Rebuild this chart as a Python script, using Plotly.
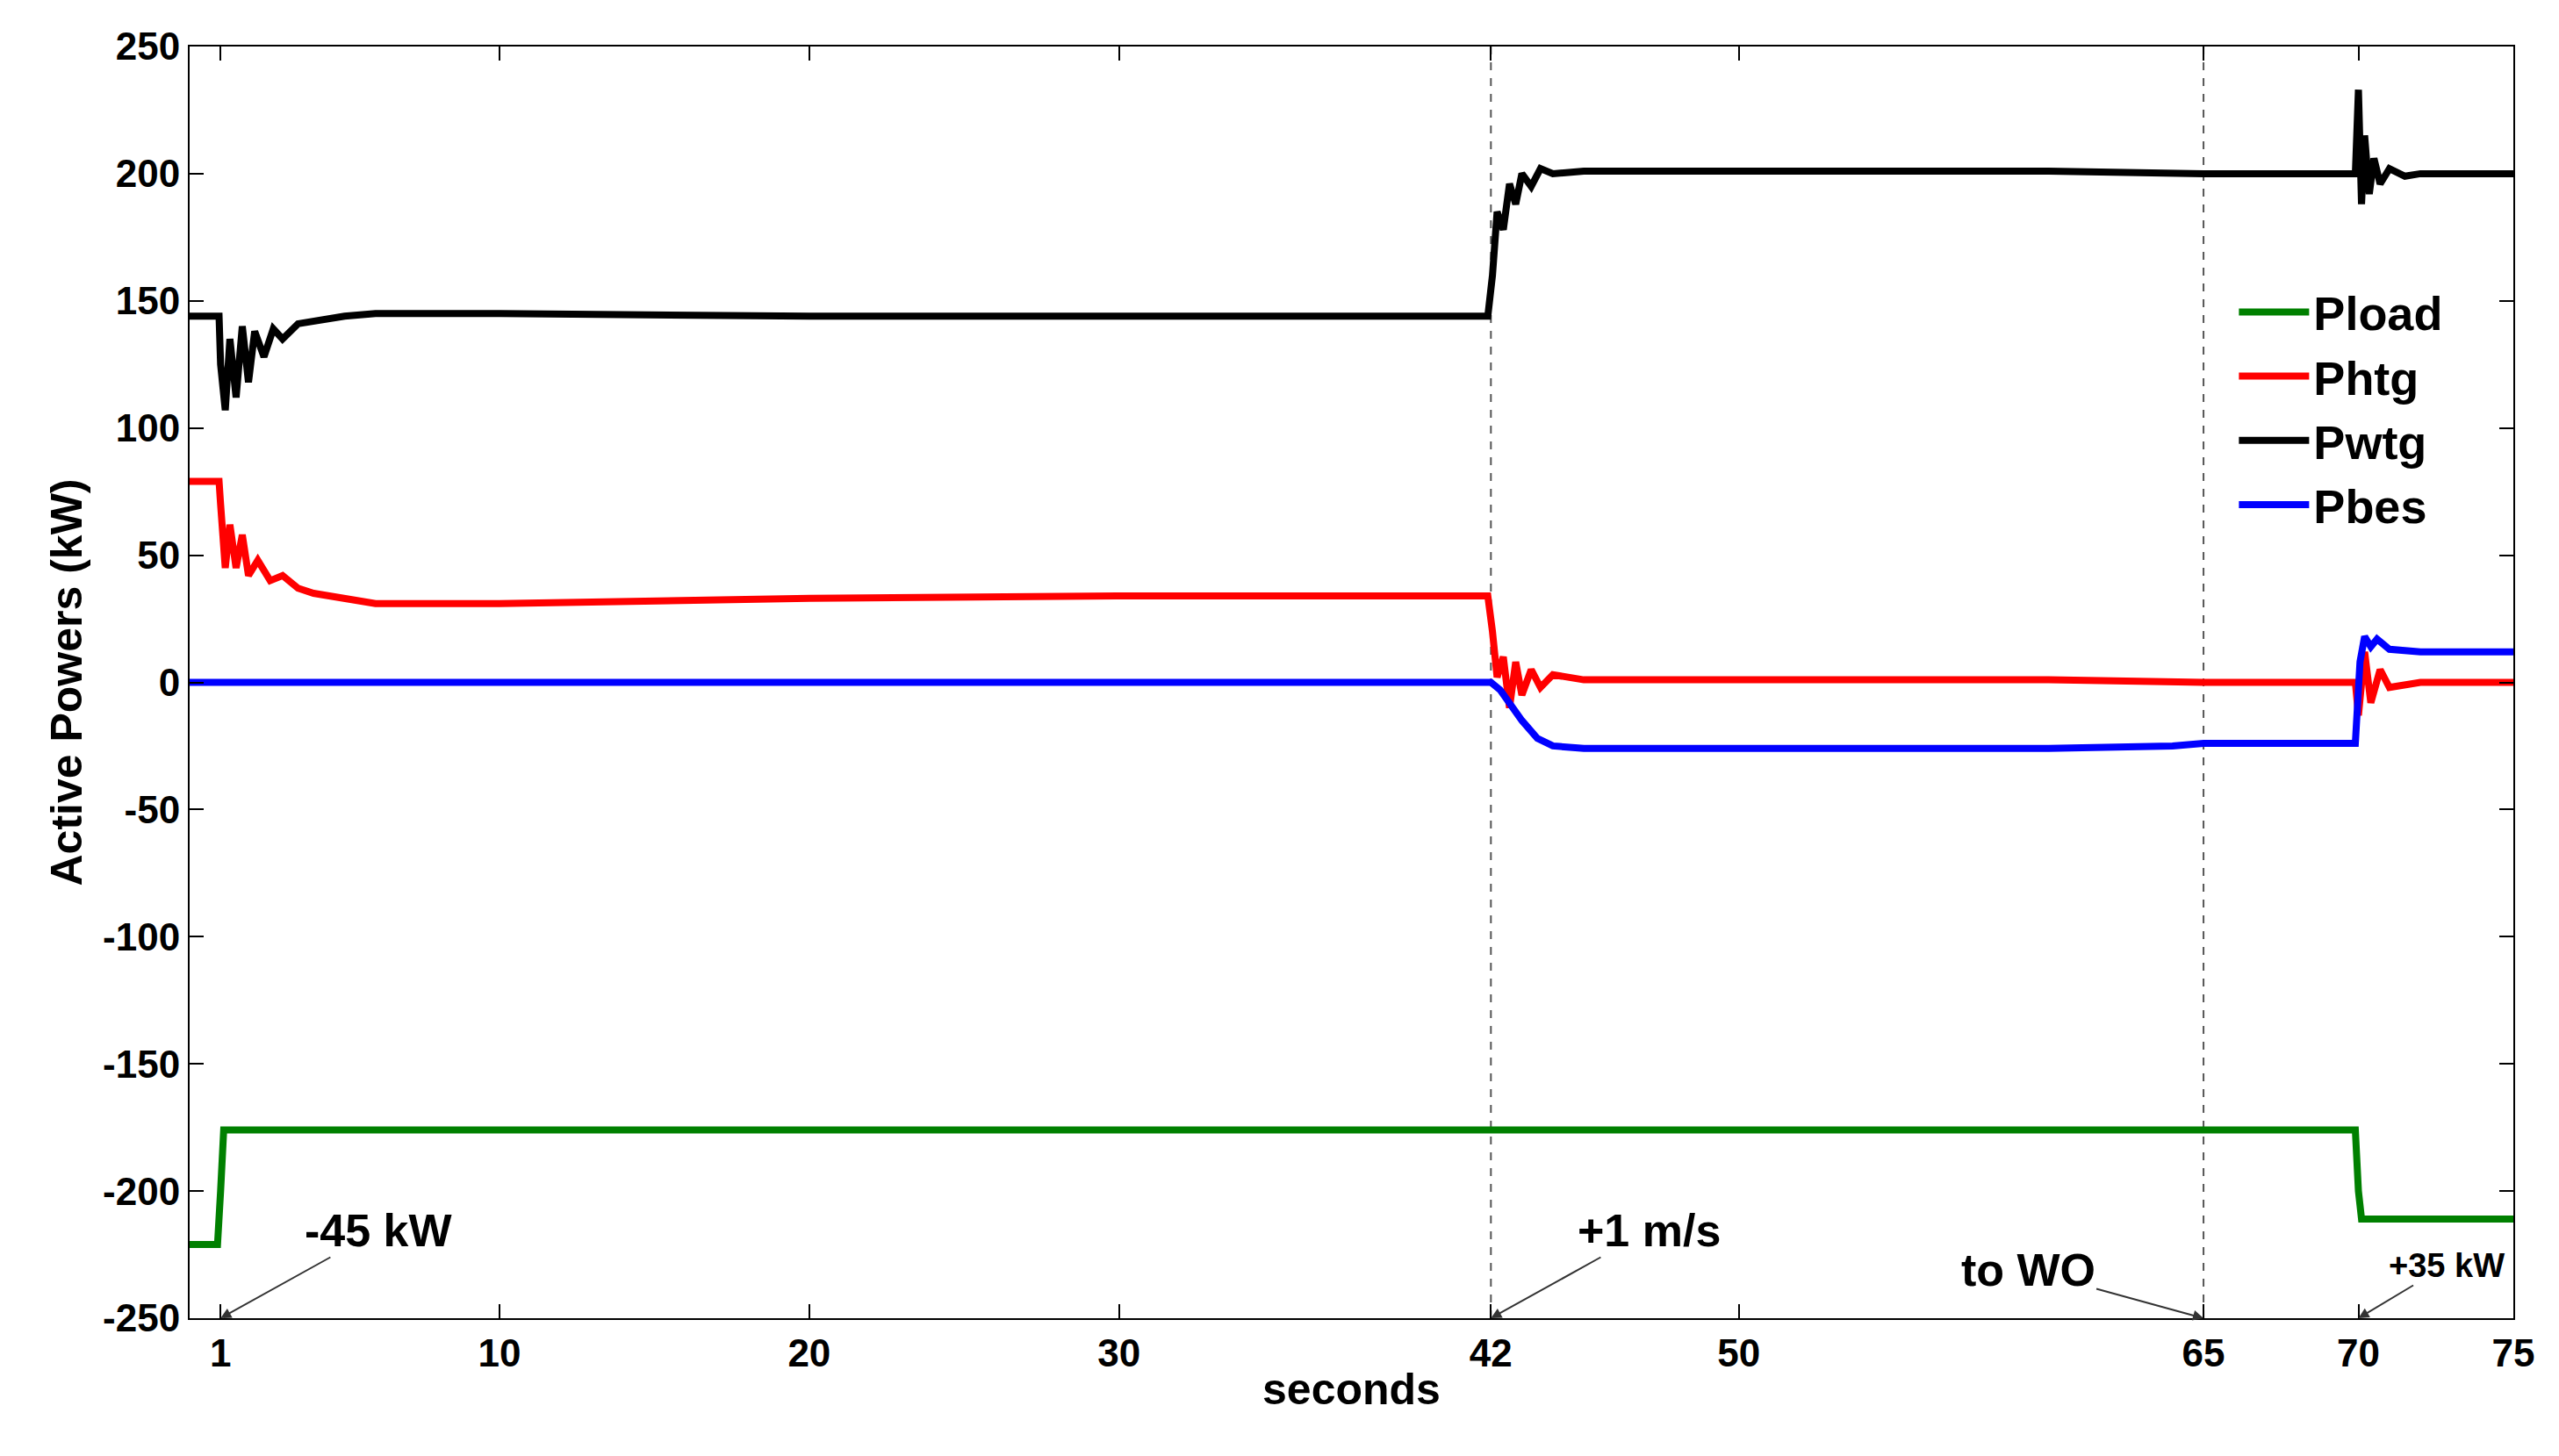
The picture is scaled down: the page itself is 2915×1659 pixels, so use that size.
import plotly.graph_objects as go

# time points (s) and values (kW)
t_wtg = [0, 0.95, 1.0, 1.15, 1.3, 1.5, 1.7, 1.9, 2.1, 2.4, 2.7, 3.0, 3.5, 4.0, 5.0, 6.0, 10, 20, 30, 41.9, 42.05, 42.2, 42.4, 42.6, 42.8, 43.0, 43.3, 43.6, 44, 45, 50, 60, 65, 69.9, 70.0, 70.1, 70.2, 70.35, 70.5, 70.7, 71, 71.5, 72, 75]
p_wtg = [144, 144, 125, 107, 135, 112, 140, 118, 138, 128, 139, 135, 141, 142, 144, 145, 145, 144, 144, 144, 160, 185, 178, 196, 188, 200, 195, 202, 200, 201, 201, 201, 200, 200, 233, 188, 215, 192, 206, 196, 202, 199, 200, 200]

t_htg = [0, 0.95, 1.0, 1.15, 1.3, 1.5, 1.7, 1.9, 2.2, 2.6, 3.0, 3.5, 4.0, 5.0, 6.0, 10, 20, 30, 41.9, 42.05, 42.2, 42.4, 42.6, 42.8, 43.0, 43.3, 43.6, 44, 45, 50, 60, 65, 69.9, 70.0, 70.2, 70.4, 70.7, 71, 72, 75]
p_htg = [79, 79, 70, 45, 62, 45, 58, 42, 48, 40, 42, 37, 35, 33, 31, 31, 33, 34, 34, 20, 2, 10, -10, 8, -5, 5, -2, 3, 1, 1, 1, 0, 0, -13, 12, -8, 5, -2, 0, 0]

t_bes = [0, 42, 42.3, 42.6, 43, 43.5, 44, 45, 50, 60, 64, 65, 66, 69.9, 70.05, 70.2, 70.4, 70.6, 71, 72, 75]
p_bes = [0, 0, -3, -8, -15, -22, -25, -26, -26, -26, -25, -24, -24, -24, 8, 18, 14, 17, 13, 12, 12]

t_load = [0, 0.9, 1.0, 1.1, 1.3, 10, 42, 65, 69.9, 70.0, 70.1, 75]
p_load = [-221, -221, -200, -176, -176, -176, -176, -176, -176, -200, -211, -211]

x_ticks = [1, 10, 20, 30, 42, 50, 65, 70, 75]
y_ticks = [-250, -200, -150, -100, -50, 0, 50, 100, 150, 200, 250]

FONT = "Liberation Sans"
fig = go.Figure()
for name, t, p, c in [("Pload", t_load, p_load, "#008000"),
                      ("Phtg", t_htg, p_htg, "#ff0000"),
                      ("Pwtg", t_wtg, p_wtg, "#000000"),
                      ("Pbes", t_bes, p_bes, "#0000ff")]:
    fig.add_trace(go.Scatter(x=t, y=p, mode="lines", name="<b>%s</b>" % name,
                             line=dict(color=c, width=8)))

for xv in [42, 65]:
    fig.add_shape(type="line", x0=xv, x1=xv, y0=-250, y1=250, xref="x", yref="y",
                  line=dict(color="#555555", width=2, dash="dash"), layer="below")

anns = [("-45 kW", 1, 180, -100, 52), ("+1 m/s", 42, 180, -100, 52),
        ("to WO", 65, -200, -55, 52), ("+35 kW", 70, 100, -60, 38)]
for txt, xv, ax, ay, fs in anns:
    fig.add_annotation(x=xv, y=-250, ax=ax, ay=ay, text="<b>%s</b>" % txt,
                       showarrow=True, arrowhead=2, arrowsize=1.2, arrowwidth=2,
                       arrowcolor="#333333", xanchor="center",
                       font=dict(family=FONT, size=fs, color="black"))

axis_common = dict(showgrid=False, zeroline=False, showline=True, linecolor="black",
                   linewidth=2, mirror="ticks", ticks="inside", ticklen=16,
                   tickwidth=2, tickcolor="black",
                   tickfont=dict(family=FONT, size=44, color="black"))
fig.update_xaxes(range=[0, 75], tickvals=x_ticks, ticktext=["<b>%d</b>" % v for v in x_ticks],
                 title=dict(text="<b>seconds</b>", font=dict(family=FONT, size=50, color="black"), standoff=0),
                 **axis_common)
fig.update_yaxes(range=[-250, 250], tickvals=y_ticks, ticktext=["<b>%d</b>" % v for v in y_ticks],
                 title=dict(text="<b>Active Powers (kW)</b>", font=dict(family=FONT, size=50, color="black"), standoff=8),
                 **axis_common)
fig.update_layout(width=2915, height=1659, plot_bgcolor="white", paper_bgcolor="white",
                  margin=dict(l=208, r=60, t=45, b=165),
                  legend=dict(x=0.88, y=0.82, xanchor="left", yanchor="top",
                              bgcolor="rgba(255,255,255,0)", borderwidth=0,
                              font=dict(family=FONT, size=54, color="black"),
                              itemwidth=80, tracegroupgap=30))
fig.write_html("out.html")
